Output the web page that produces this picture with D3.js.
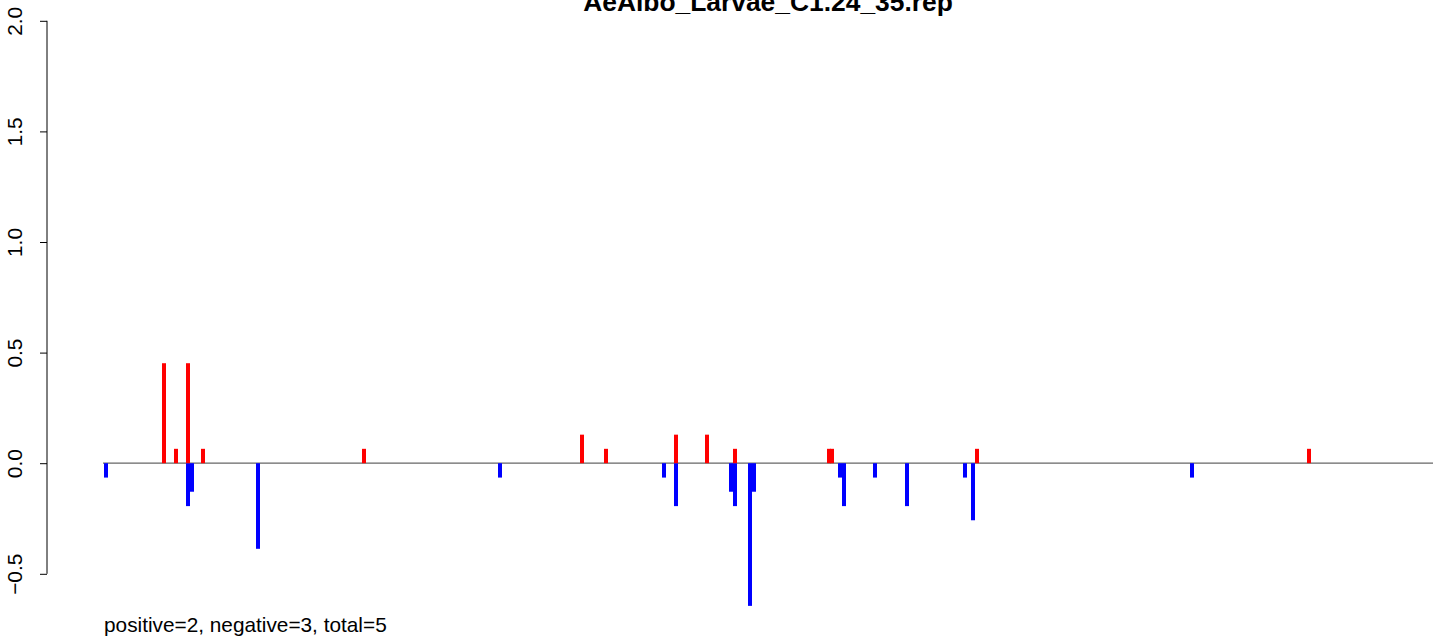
<!DOCTYPE html>
<html>
<head>
<meta charset="utf-8">
<script src="https://cdn.jsdelivr.net/npm/d3@7"></script>
<style>
  html, body { margin: 0; padding: 0; background: #fff; }
  svg { display: block; font-family: "Liberation Sans", Arial, sans-serif; }
</style>
</head>
<body>
<script>
const titleText = "AeAlbo_Larvae_C1.24_35.rep";
const footerText = "positive=2, negative=3, total=5";
const yTicks = [-0.5, 0.0, 0.5, 1.0, 1.5, 2.0];

const posPositions = [61, 73, 85, 100, 261, 479, 503, 573, 604, 632, 726, 729, 874, 1206];
const posValues    = [0.452, 0.065, 0.452, 0.065, 0.065, 0.129, 0.065, 0.129, 0.129, 0.065, 0.065, 0.065, 0.065, 0.065];

const negPositions = [3, 85, 89, 155, 397, 561, 573, 628, 632, 647, 651, 737, 741, 772, 804, 862, 870, 1089];
const negValues    = [-0.065, -0.194, -0.129, -0.387, -0.065, -0.065, -0.194, -0.129, -0.194, -0.645, -0.129, -0.065, -0.194, -0.065, -0.194, -0.065, -0.258, -0.065];

const W = 1433, H = 639;
const svg = d3.select("body").append("svg").attr("width", W).attr("height", H);

const x = d3.scaleLinear().domain([0, 1330]).range([103, 1433]);
const y = d3.scaleLinear().domain([-0.5, 2.0]).range([573.8, 20.8]);

// y axis
const axisX = 47;
const yAxis = d3.axisLeft(y).tickValues(yTicks).tickSize(7).tickFormat(d => d3.format(".1f")(d).replace("-", "\u2212"));
const ag = svg.append("g").attr("transform", `translate(${axisX},0)`).call(yAxis);
ag.select(".domain").attr("d", `M0,${y(-0.5)}V${y(2.0)}`).attr("stroke", "#000").attr("stroke-width", 1);
ag.selectAll(".tick line").attr("stroke", "#000");
ag.selectAll(".tick text")
  .attr("x", null).attr("dy", null)
  .attr("transform", "translate(-25,0) rotate(-90)")
  .attr("text-anchor", "middle")
  .attr("font-size", "20.8px")
  .attr("font-family", "Liberation Sans, Arial, sans-serif")
  .attr("fill", "#000");

// zero line
svg.append("line")
  .attr("x1", x(0)).attr("x2", x(1330))
  .attr("y1", y(0)).attr("y2", y(0))
  .attr("stroke", "#666").attr("stroke-width", 1.3);

const barW = 4;
const posData = posPositions.map((p, i) => ({ p, v: posValues[i] }));
const negData = negPositions.map((p, i) => ({ p, v: negValues[i] }));

svg.append("g").selectAll("rect").data(negData).join("rect")
  .attr("x", d => x(d.p) - barW / 2)
  .attr("y", y(0))
  .attr("width", barW)
  .attr("height", d => y(d.v) - y(0))
  .attr("fill", "#0000FF");

svg.append("g").selectAll("rect").data(posData).join("rect")
  .attr("x", d => x(d.p) - barW / 2)
  .attr("y", d => y(d.v))
  .attr("width", barW)
  .attr("height", d => y(0) - y(d.v))
  .attr("fill", "#FF0000");

// title (cropped at the top edge, as in the reference)
svg.append("text")
  .attr("x", 768).attr("y", 11)
  .attr("text-anchor", "middle")
  .attr("font-weight", "bold")
  .attr("font-size", "26.4px")
  .attr("fill", "#000")
  .text(titleText);

// footer
svg.append("text")
  .attr("x", 104).attr("y", 632)
  .attr("font-size", "20.8px")
  .attr("fill", "#000")
  .text(footerText);
</script>
</body>
</html>
